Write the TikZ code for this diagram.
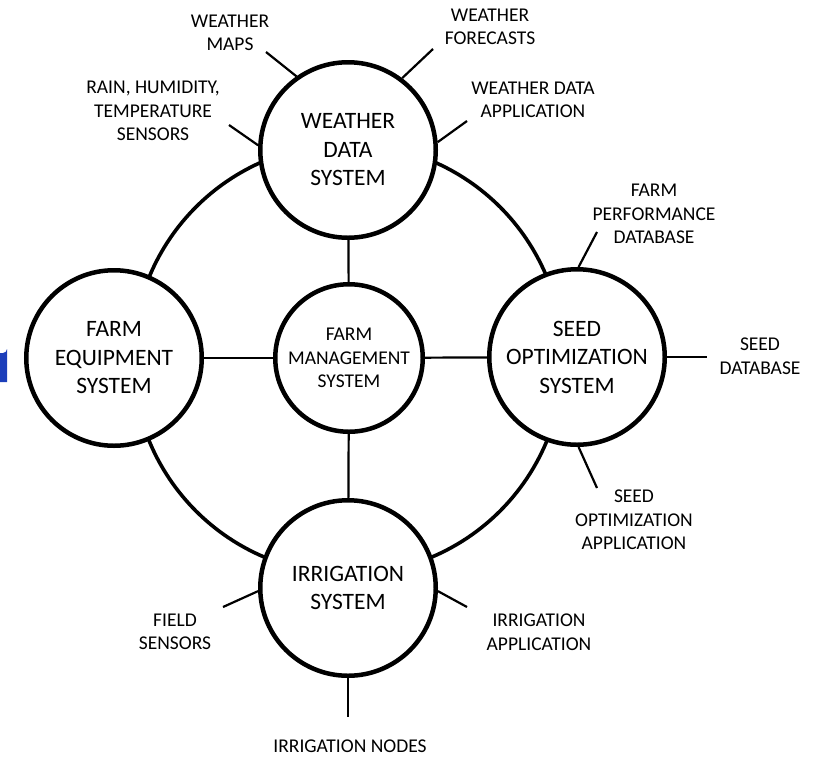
\documentclass[tikz,border=0pt]{standalone}
\usepackage{fontspec}
\setmainfont{Carlito}
\definecolor{edgeblue}{RGB}{28,62,186}
\tikzset{%
   sysnode/.style={circle, draw, line width=4.5pt, fill=white, minimum size=175.5pt,%
      inner sep=0pt, align=center, font=\fontsize{23.5}{28.5}\selectfont},%
   hubnode/.style={circle, draw, line width=4.5pt, fill=white, minimum size=147.5pt,%
      inner sep=0pt, align=center, font=\fontsize{19.5}{23.5}\selectfont},%
   lbl/.style={align=center, inner sep=0pt, font=\fontsize{19.5}{23.5}\selectfont},%
   spoke/.style={line width=2.2pt},%
   link/.style={line width=2.2pt}%
}
\begin{document}
\begin{tikzpicture}[x=1pt,y=-1pt]%
      \useasboundingbox (0,0) rectangle (821,756);%
      % ~ stray blue mark at left edge
      \fill[edgeblue] (0,353) -- (3,353) arc[start angle=90, end angle=0, radius=4] -- (7,382) -- (0,382) -- cycle;%
      % ~ outer ring
      \node[circle, draw, line width=3.6pt, minimum size=430pt, inner sep=0pt] (ring) at (348,359) {};%
      % ~ systems
      \node[hubnode] (hub) at (349,358) {FARM\\MANAGEMENT\\SYSTEM};%
      \node[sysnode] (wx) at (348,150) {WEATHER\\DATA\\SYSTEM};%
      \node[sysnode] (equip) at (114,358) {FARM\\EQUIPMENT\\SYSTEM};%
      \node[sysnode] (seed) at (577,357) {SEED\\OPTIMIZATION\\SYSTEM};%
      \node[sysnode] (irr) at (348,588) {IRRIGATION\\SYSTEM};%
      % ~ links to hub
      \draw[link] (wx) -- (hub);%
      \draw[link] (irr) -- (hub);%
      \draw[link] (equip) -- (hub);%
      \draw[link] (seed) -- (hub);%
      % ~ labels
      \node[lbl] (maps) at (230,33) {WEATHER\\MAPS};%
      \node[lbl] (fcst) at (490,27) {WEATHER\\FORECASTS};%
      \node[lbl] (rain) at (153,111) {RAIN, HUMIDITY,\\TEMPERATURE\\SENSORS};%
      \node[lbl] (wxapp) at (533,100) {WEATHER DATA\\APPLICATION};%
      \node[lbl] (perf) at (654,214) {FARM\\PERFORMANCE\\DATABASE};%
      \node[lbl] (seeddb) at (760,356) {SEED\\DATABASE};%
      \node[lbl] (seedapp) at (634,520) {SEED\\OPTIMIZATION\\APPLICATION};%
      \node[lbl] (field) at (175,632) {FIELD\\SENSORS};%
      \node[lbl] (irrapp) at (539,632) {IRRIGATION\\APPLICATION};%
      \node[lbl] (nodes) at (350,746) {IRRIGATION NODES};%
      % ~ spoke ends
      \coordinate (maps-e) at (266,52);%
      \coordinate (fcst-e) at (433,49);%
      \coordinate (rain-e) at (229,125);%
      \coordinate (wxapp-e) at (467,121);%
      \coordinate (perf-e) at (597,232);%
      \coordinate (seeddb-e) at (707,357);%
      \coordinate (seedapp-e) at (597,488);%
      \coordinate (field-e) at (223,607);%
      \coordinate (irrapp-e) at (467,607);%
      \coordinate (nodes-e) at (348,717);%
      % ~ spokes
      \foreach \from/\to in {wx.125/maps-e, wx.53/fcst-e, wx.177/rain-e, wx.5/wxapp-e,%
            seed.89/perf-e, seed.0/seeddb-e, seed.-89/seedapp-e,%
            irr.182/field-e, irr.-2/irrapp-e, irr.-90/nodes-e}%
         {%
            \draw[spoke] (\from) -- (\to);%
         }%
   \end{tikzpicture}
\end{document}
